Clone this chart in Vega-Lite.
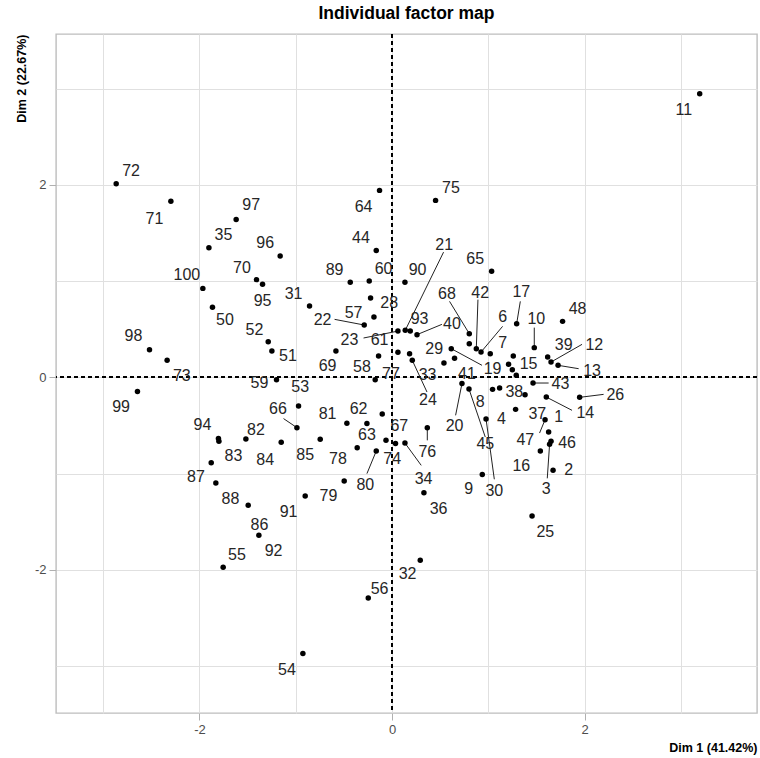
{
  "$schema": "https://vega.github.io/schema/vega-lite/v6.json",
  "width": 701,
  "height": 679,
  "autosize": {"type": "none"},
  "padding": {"left": 56, "top": 34, "right": 3, "bottom": 45},
  "background": "white",
  "title": {"text": "Individual factor map", "anchor": "middle", "fontSize": 17.5, "fontWeight": "bold", "font": "Liberation Sans", "color": "#000000", "offset": 11},
  "config": {
    "view": {"stroke": "#bdbdbd", "strokeWidth": 1.4},
    "axis": {"grid": true, "gridColor": "#e0e0e0", "gridWidth": 1, "domain": false, "tickColor": "#b0b0b0", "tickSize": 7, "labelPadding": 3, "labelColor": "#4d4d4d", "labelFont": "Liberation Sans", "labelFontSize": 13, "titleFont": "Liberation Sans", "titleFontSize": 12.5, "titleFontWeight": "bold", "titleColor": "#000000"}
  },
  "data": {"values": [
    {"id":"1","x":1.626,"y":-0.569,"lx":1.730,"ly":-0.413},
    {"id":"2","x":1.672,"y":-0.967,"lx":1.834,"ly":-0.959},
    {"id":"3","x":1.636,"y":-0.696,"lx":1.602,"ly":-1.164,"sx":1.612,"sy":-1.050},
    {"id":"4","x":1.283,"y":-0.333,"lx":1.135,"ly":-0.429},
    {"id":"5","x":1.249,"y":0.078},
    {"id":"6","x":0.924,"y":0.263,"lx":1.148,"ly":0.627,"sx":1.148,"sy":0.530},
    {"id":"7","x":1.020,"y":0.246,"lx":1.148,"ly":0.357},
    {"id":"8","x":1.044,"y":-0.125,"lx":0.916,"ly":-0.257},
    {"id":"9","x":0.937,"y":-1.011,"lx":0.795,"ly":-1.157},
    {"id":"10","x":1.477,"y":0.309,"lx":1.498,"ly":0.610,"sx":1.477,"sy":0.517},
    {"id":"11","x":3.195,"y":2.949,"lx":3.029,"ly":2.775},
    {"id":"12","x":1.651,"y":0.159,"lx":2.101,"ly":0.333,"sx":1.973,"sy":0.343},
    {"id":"13","x":1.724,"y":0.125,"lx":2.077,"ly":0.062,"sx":1.938,"sy":0.090},
    {"id":"14","x":1.602,"y":-0.205,"lx":2.007,"ly":-0.371,"sx":1.869,"sy":-0.343},
    {"id":"15","x":1.259,"y":0.221,"lx":1.418,"ly":0.142},
    {"id":"16","x":1.540,"y":-0.766,"lx":1.342,"ly":-0.922},
    {"id":"17","x":1.294,"y":0.558,"lx":1.342,"ly":0.887,"sx":1.332,"sy":0.790},
    {"id":"18","x":1.210,"y":0.135},
    {"id":"19","x":0.615,"y":0.298,"lx":1.044,"ly":0.090,"sx":0.934,"sy":0.125},
    {"id":"20","x":0.726,"y":-0.065,"lx":0.649,"ly":-0.506,"sx":0.660,"sy":-0.395},
    {"id":"21","x":0.137,"y":0.489,"lx":0.542,"ly":1.372,"sx":0.535,"sy":1.302},
    {"id":"22","x":-0.289,"y":0.544,"lx":-0.722,"ly":0.600,"sx":-0.597,"sy":0.603},
    {"id":"23","x":0.061,"y":0.481,"lx":-0.442,"ly":0.385,"sx":-0.296,"sy":0.409},
    {"id":"24","x":0.210,"y":0.177,"lx":0.373,"ly":-0.239,"sx":0.363,"sy":-0.153},
    {"id":"25","x":1.454,"y":-1.442,"lx":1.592,"ly":-1.608},
    {"id":"26","x":1.948,"y":-0.208,"lx":2.319,"ly":-0.187,"sx":2.197,"sy":-0.177},
    {"id":"27","x":1.290,"y":0.021},
    {"id":"28","x":-0.223,"y":0.824,"lx":-0.029,"ly":0.772},
    {"id":"29","x":0.539,"y":0.149,"lx":0.438,"ly":0.298},
    {"id":"30","x":0.976,"y":-0.433,"lx":1.062,"ly":-1.182,"sx":1.062,"sy":-1.060},
    {"id":"31","x":-0.857,"y":0.741,"lx":-1.023,"ly":0.870},
    {"id":"32","x":0.293,"y":-1.902,"lx":0.161,"ly":-2.048},
    {"id":"33","x":0.182,"y":0.246,"lx":0.369,"ly":0.021},
    {"id":"34","x":0.134,"y":-0.683,"lx":0.327,"ly":-1.053,"sx":0.303,"sy":-0.915},
    {"id":"35","x":-1.902,"y":1.348,"lx":-1.751,"ly":1.476},
    {"id":"36","x":0.331,"y":-1.199,"lx":0.483,"ly":-1.365},
    {"id":"37","x":1.381,"y":-0.180,"lx":1.509,"ly":-0.377},
    {"id":"38","x":1.117,"y":-0.111,"lx":1.270,"ly":-0.153},
    {"id":"39","x":1.616,"y":0.211,"lx":1.782,"ly":0.333},
    {"id":"40","x":0.259,"y":0.444,"lx":0.622,"ly":0.558,"sx":0.518,"sy":0.551},
    {"id":"41","x":0.649,"y":0.198,"lx":0.778,"ly":0.038},
    {"id":"42","x":0.875,"y":0.298,"lx":0.916,"ly":0.876,"sx":0.892,"sy":0.808},
    {"id":"43","x":1.464,"y":-0.059,"lx":1.748,"ly":-0.073,"sx":1.626,"sy":-0.059},
    {"id":"44","x":-0.164,"y":1.320,"lx":-0.323,"ly":1.448},
    {"id":"45","x":0.799,"y":-0.122,"lx":0.968,"ly":-0.689,"sx":0.968,"sy":-0.621},
    {"id":"46","x":1.651,"y":-0.665,"lx":1.817,"ly":-0.683},
    {"id":"47","x":1.589,"y":-0.440,"lx":1.384,"ly":-0.648,"sx":1.532,"sy":-0.579},
    {"id":"48","x":1.771,"y":0.582,"lx":1.927,"ly":0.707},
    {"id":"49","x":0.802,"y":0.350},
    {"id":"50","x":-1.865,"y":0.728,"lx":-1.736,"ly":0.593},
    {"id":"51","x":-1.248,"y":0.273,"lx":-1.082,"ly":0.221},
    {"id":"52","x":-1.286,"y":0.371,"lx":-1.429,"ly":0.496},
    {"id":"53","x":-0.971,"y":-0.298,"lx":-0.954,"ly":-0.101},
    {"id":"54","x":-0.926,"y":-2.872,"lx":-1.092,"ly":-3.046},
    {"id":"55","x":-1.754,"y":-1.975,"lx":-1.611,"ly":-1.850},
    {"id":"56","x":-0.247,"y":-2.294,"lx":-0.130,"ly":-2.204},
    {"id":"57","x":-0.188,"y":0.627,"lx":-0.400,"ly":0.673},
    {"id":"58","x":-0.140,"y":0.221,"lx":-0.313,"ly":0.107},
    {"id":"59","x":-1.200,"y":-0.024,"lx":-1.377,"ly":-0.059},
    {"id":"60","x":-0.237,"y":1.001,"lx":-0.088,"ly":1.130},
    {"id":"61","x":0.061,"y":0.260,"lx":-0.130,"ly":0.385},
    {"id":"62","x":-0.102,"y":-0.381,"lx":-0.348,"ly":-0.325},
    {"id":"63","x":-0.261,"y":-0.481,"lx":-0.261,"ly":-0.596},
    {"id":"64","x":-0.130,"y":1.944,"lx":-0.296,"ly":1.770},
    {"id":"65","x":1.034,"y":1.102,"lx":0.864,"ly":1.227},
    {"id":"66","x":-0.988,"y":-0.523,"lx":-1.185,"ly":-0.325,"sx":-1.127,"sy":-0.429},
    {"id":"67","x":0.036,"y":-0.689,"lx":0.075,"ly":-0.506},
    {"id":"68","x":0.802,"y":0.454,"lx":0.570,"ly":0.870,"sx":0.597,"sy":0.790},
    {"id":"69","x":-0.583,"y":0.273,"lx":-0.670,"ly":0.114},
    {"id":"70","x":-1.408,"y":1.016,"lx":-1.559,"ly":1.140},
    {"id":"71","x":-2.297,"y":1.830,"lx":-2.468,"ly":1.650},
    {"id":"72","x":-2.865,"y":2.014,"lx":-2.710,"ly":2.141},
    {"id":"73","x":-2.336,"y":0.177,"lx":-2.183,"ly":0.010},
    {"id":"74","x":-0.063,"y":-0.655,"lx":0.002,"ly":-0.852},
    {"id":"75","x":0.452,"y":1.840,"lx":0.612,"ly":1.972},
    {"id":"76","x":0.366,"y":-0.523,"lx":0.366,"ly":-0.772,"sx":0.366,"sy":-0.655},
    {"id":"77","x":-0.175,"y":-0.024,"lx":-0.011,"ly":0.038},
    {"id":"78","x":-0.362,"y":-0.731,"lx":-0.562,"ly":-0.852},
    {"id":"79","x":-0.497,"y":-1.078,"lx":-0.660,"ly":-1.237},
    {"id":"80","x":-0.164,"y":-0.766,"lx":-0.278,"ly":-1.123,"sx":-0.261,"sy":-1.001},
    {"id":"81","x":-0.469,"y":-0.478,"lx":-0.670,"ly":-0.385},
    {"id":"82","x":-1.518,"y":-0.641,"lx":-1.414,"ly":-0.551},
    {"id":"83","x":-1.798,"y":-0.665,"lx":-1.647,"ly":-0.821},
    {"id":"84","x":-1.151,"y":-0.676,"lx":-1.317,"ly":-0.856},
    {"id":"85","x":-0.746,"y":-0.644,"lx":-0.902,"ly":-0.811},
    {"id":"86","x":-1.494,"y":-1.331,"lx":-1.377,"ly":-1.531},
    {"id":"87","x":-1.878,"y":-0.887,"lx":-2.037,"ly":-1.040},
    {"id":"88","x":-1.830,"y":-1.099,"lx":-1.678,"ly":-1.268},
    {"id":"89","x":-0.434,"y":0.988,"lx":-0.597,"ly":1.112},
    {"id":"90","x":0.134,"y":0.988,"lx":0.265,"ly":1.112},
    {"id":"91","x":-0.902,"y":-1.234,"lx":-1.075,"ly":-1.400},
    {"id":"92","x":-1.383,"y":-1.642,"lx":-1.231,"ly":-1.806},
    {"id":"93","x":0.189,"y":0.481,"lx":0.286,"ly":0.610},
    {"id":"94","x":-1.803,"y":-0.637,"lx":-1.969,"ly":-0.499},
    {"id":"95","x":-1.345,"y":0.967,"lx":-1.345,"ly":0.793},
    {"id":"96","x":-1.162,"y":1.261,"lx":-1.317,"ly":1.393},
    {"id":"97","x":-1.619,"y":1.642,"lx":-1.463,"ly":1.788},
    {"id":"98","x":-2.519,"y":0.288,"lx":-2.686,"ly":0.426},
    {"id":"99","x":-2.644,"y":-0.146,"lx":-2.814,"ly":-0.309},
    {"id":"100","x":-1.965,"y":0.925,"lx":-2.131,"ly":1.060}
  ]},
  "layer": [
    {
      "mark": {"type": "point", "opacity": 0},
      "encoding": {
        "x": {"field": "x", "type": "quantitative", "scale": {"domain": [-3.49, 3.79], "nice": false, "zero": false},
              "axis": {"title": "Dim 1 (41.42%)", "values": [-3, -2, -1, 0, 1, 2, 3], "labelExpr": "datum.value % 2 === 0 ? toString(datum.value) : ''", "tickOpacity": {"condition": {"test": "datum.value % 2 !== 0", "value": 0}, "value": 1}, "titleAnchor": "end", "titlePadding": 5}},
        "y": {"field": "y", "type": "quantitative", "scale": {"domain": [-3.49, 3.57], "nice": false, "zero": false},
              "axis": {"title": "Dim 2 (22.67%)", "values": [-3, -2, -1, 0, 1, 2, 3], "labelExpr": "datum.value % 2 === 0 ? toString(datum.value) : ''", "tickOpacity": {"condition": {"test": "datum.value % 2 !== 0", "value": 0}, "value": 1}, "titleAnchor": "end", "titlePadding": 6}}
      }
    },
    {
      "mark": {"type": "rule", "color": "#000000", "strokeDash": [4, 3], "strokeWidth": 1},
      "encoding": {"x": {"datum": 0, "type": "quantitative"}}
    },
    {
      "mark": {"type": "rule", "color": "#000000", "strokeDash": [4, 3], "strokeWidth": 1},
      "encoding": {"y": {"datum": 0, "type": "quantitative"}}
    },
    {
      "transform": [{"filter": "isValid(datum.sx)"}],
      "mark": {"type": "rule", "color": "#222222", "strokeWidth": 1},
      "encoding": {
        "x": {"field": "x", "type": "quantitative"},
        "y": {"field": "y", "type": "quantitative"},
        "x2": {"field": "sx"},
        "y2": {"field": "sy"}
      }
    },
    {
      "mark": {"type": "circle", "color": "#000000", "opacity": 1, "size": 30},
      "encoding": {
        "x": {"field": "x", "type": "quantitative"},
        "y": {"field": "y", "type": "quantitative"}
      }
    },
    {
      "transform": [{"filter": "isValid(datum.lx)"}],
      "mark": {"type": "text", "font": "Liberation Sans", "fontSize": 16, "color": "#262626", "align": "center", "baseline": "middle"},
      "encoding": {
        "x": {"field": "lx", "type": "quantitative"},
        "y": {"field": "ly", "type": "quantitative"},
        "text": {"field": "id"}
      }
    }
  ]
}
